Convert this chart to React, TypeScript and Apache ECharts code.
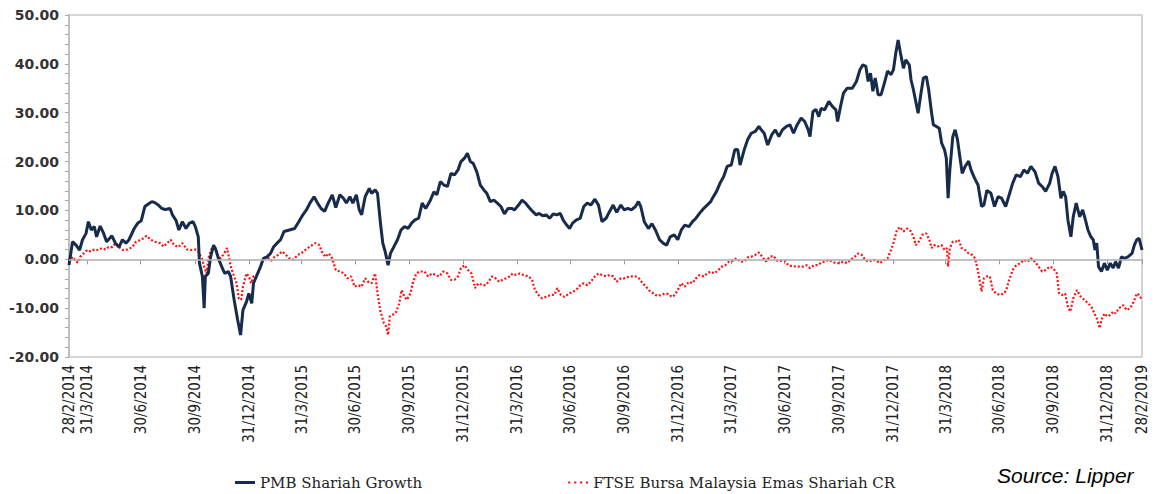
import React, { useEffect, useRef } from "react";
import * as echarts from "echarts";

// x values are days counted from 28/2/2014
const tickDays = [0, 31, 122, 214, 306, 396, 487, 579, 671, 762, 853, 945, 1037, 1127, 1218, 1310, 1402, 1492, 1583, 1675, 1767, 1826];
const tickLabels = [
  "28/2/2014", "31/3/2014", "30/6/2014", "30/9/2014", "31/12/2014",
  "31/3/2015", "30/6/2015", "30/9/2015", "31/12/2015",
  "31/3/2016", "30/6/2016", "30/9/2016", "31/12/2016",
  "31/3/2017", "30/6/2017", "30/9/2017", "31/12/2017",
  "31/3/2018", "30/6/2018", "30/9/2018", "31/12/2018", "28/2/2019",
];

const seriesNames = ["PMB Shariah Growth", "FTSE Bursa Malaysia Emas Shariah CR"];

const pmbGrowth: [number, number][] = [
  [0,-1.2],[6,3.6],[12,2.9],[18,1.9],[23,4.0],[29,5.3],[33,7.7],[38,6.0],[43,6.7],[47,4.6],[53,6.8],[59,5.3],[64,3.6],[73,4.8],[79,3.3],[85,2.5],[91,4.0],[97,3.3],[102,4.0],[111,6.3],[117,7.4],[123,7.9],[129,10.8],[135,11.3],[141,11.8],[146,11.6],[152,11.1],[158,10.4],[164,10.2],[172,10.4],[176,9.1],[182,8.0],[187,6.0],[193,7.7],[199,6.3],[205,7.4],[211,7.7],[215,6.7],[220,4.6],[222,-0.8],[227,-3.5],[230,-10.0],[232,-3.5],[237,-2.9],[241,0.5],[246,2.9],[250,1.9],[255,-0.1],[261,-1.8],[265,-2.9],[271,-2.5],[275,-3.5],[281,-8.3],[287,-12.4],[292,-15.5],[296,-10.4],[302,-8.7],[306,-7.0],[311,-9.0],[314,-4.9],[320,-3.2],[326,-1.5],[331,0.2],[337,0.5],[343,1.2],[348,2.5],[354,3.3],[360,4.0],[366,5.7],[375,6.0],[384,6.3],[391,7.7],[398,9.1],[404,10.1],[410,11.5],[417,12.8],[423,11.5],[429,10.4],[435,9.8],[441,11.5],[448,13.2],[454,10.6],[461,13.2],[467,12.5],[472,11.5],[478,12.8],[483,11.5],[489,13.2],[494,10.1],[498,9.1],[504,12.8],[511,14.5],[515,13.5],[521,14.2],[525,13.5],[530,7.4],[534,3.3],[538,1.6],[543,-1.2],[547,1.2],[553,2.6],[559,4.0],[565,6.0],[571,6.7],[577,6.3],[583,7.4],[588,8.0],[595,8.4],[601,11.5],[607,10.4],[615,12.1],[621,13.8],[626,13.2],[632,15.9],[638,15.2],[644,14.9],[650,17.6],[656,17.3],[662,18.3],[667,20.0],[673,20.7],[678,21.7],[683,20.0],[688,19.6],[694,17.9],[700,15.2],[706,14.2],[711,13.5],[717,11.8],[723,12.1],[729,11.5],[735,10.8],[741,9.3],[747,10.4],[754,10.4],[758,10.1],[765,11.1],[771,12.1],[777,11.5],[783,10.6],[789,9.8],[795,9.1],[800,9.4],[806,8.9],[812,9.1],[818,8.4],[824,9.3],[830,9.1],[836,9.4],[841,8.0],[847,7.0],[852,6.3],[857,7.4],[863,8.0],
  [870,8.4],[876,10.8],[882,11.5],[888,11.1],[895,12.3],[901,11.1],[907,7.7],[914,8.4],[920,9.8],[926,11.1],[932,9.6],[939,11.1],[945,10.1],[951,10.4],[957,10.1],[964,10.8],[969,11.8],[973,10.8],[979,7.7],[986,6.3],[992,7.3],[998,6.0],[1005,4.0],[1011,3.3],[1017,2.9],[1023,4.6],[1030,5.0],[1036,4.0],[1042,6.0],[1048,7.0],[1055,6.7],[1061,7.7],[1067,8.4],[1073,9.4],[1080,10.4],[1086,11.1],[1092,11.8],[1095,12.5],[1102,13.9],[1108,15.6],[1114,16.9],[1120,19.0],[1127,19.3],[1133,22.4],[1138,22.5],[1142,19.3],[1149,22.4],[1155,24.5],[1161,25.8],[1168,26.2],[1174,27.2],[1178,26.5],[1183,25.8],[1189,23.4],[1196,25.5],[1202,26.5],[1208,25.1],[1214,26.5],[1221,27.2],[1227,27.5],[1233,25.8],[1239,27.5],[1246,28.9],[1252,28.2],[1258,26.5],[1261,25.1],[1266,30.2],[1271,30.7],[1276,29.2],[1280,30.9],[1286,30.6],[1293,32.3],[1299,31.3],[1305,30.6],[1308,28.2],[1313,31.3],[1318,34.0],[1324,35.0],[1333,35.0],[1340,36.4],[1346,38.8],[1351,39.8],[1356,39.5],[1360,36.4],[1364,38.1],[1368,34.4],[1372,37.1],[1377,33.7],[1382,33.7],[1387,35.8],[1393,38.5],[1399,37.8],[1403,38.8],[1407,42.2],[1411,44.9],[1415,42.2],[1420,39.1],[1424,40.8],[1430,39.8],[1433,36.7],[1437,34.7],[1441,32.3],[1445,29.9],[1449,33.3],[1454,37.1],[1459,37.4],[1463,34.7],[1468,29.9],[1471,27.5],[1476,27.2],[1481,26.8],[1485,23.8],[1490,22.4],[1493,20.7],[1496,12.5],[1499,18.3],[1504,25.1],[1508,26.5],[1512,24.5],[1516,21.0],[1520,17.6],[1525,19.0],[1531,20.1],[1535,18.3],[1541,16.6],[1547,15.2],[1553,10.8],[1557,11.1],[1562,14.1],[1569,13.5],[1575,10.8],[1581,12.8],[1587,12.5],[1594,10.8],[1600,13.2],[1606,15.6],[1612,17.3],[1619,16.9],[1625,18.3],[1631,17.6],[1637,19.0],[1644,17.9],[1650,15.6],[1656,14.9],[1662,13.9],[1669,15.6],[1673,17.6],[1678,19.0],[1683,16.9],[1688,12.5],[1692,13.9],[1696,12.8],[1700,8.0],[1705,4.6],[1709,8.7],[1714,11.5],[1720,8.7],[1725,10.1],[1729,8.4],[1734,6.0],[1739,4.6],[1743,4.0],[1746,1.9],[1749,3.3],[1752,-1.5],[1757,-2.5],[1762,-0.8],[1767,-2.2],[1772,-0.8],[1777,-1.8],[1781,-0.5],[1786,-1.8],[1791,0.5],[1796,0.2],[1802,0.5],[1809,1.2],[1813,2.9],[1817,4.0],[1821,4.3],[1826,1.9],
];

const ftseEmasShariah: [number, number][] = [
  [0,-0.5],[6,0.5],[10,-0.1],[15,-0.7],[19,0.5],[25,1.2],[31,1.9],[37,1.6],[43,2.0],[50,1.9],[56,2.3],[62,2.0],[67,2.5],[74,2.5],[79,3.3],[85,2.5],[91,1.9],[100,2.0],[108,2.5],[114,3.6],[123,4.0],[132,4.8],[139,4.0],[146,3.6],[155,3.3],[161,2.6],[167,3.3],[173,4.0],[179,2.9],[186,2.5],[193,3.3],[201,2.0],[208,1.9],[215,2.0],[220,1.6],[226,0.2],[230,-1.5],[234,-2.9],[238,0.5],[243,2.3],[248,2.9],[252,0.9],[258,0.2],[264,1.2],[269,2.3],[272,0.5],[276,-1.8],[281,-3.5],[285,-4.9],[289,-8.0],[293,-8.3],[296,-5.6],[302,-2.9],[306,-3.5],[310,-4.9],[314,-3.5],[320,-3.2],[326,-1.5],[331,0.2],[337,0.5],[344,-0.3],[350,0.5],[356,0.9],[363,1.6],[369,0.9],[375,0.2],[382,-0.1],[389,0.9],[395,1.2],[402,1.9],[410,2.6],[419,3.3],[426,2.9],[430,1.6],[436,0.5],[442,1.2],[448,0.2],[454,-2.2],[461,-2.5],[468,-2.9],[474,-3.9],[480,-3.5],[486,-5.6],[492,-5.3],[498,-5.6],[504,-3.9],[509,-4.6],[515,-4.9],[521,-2.9],[525,-7.0],[530,-10.7],[536,-13.1],[540,-13.8],[543,-15.5],[546,-11.7],[550,-11.4],[556,-11.0],[562,-9.0],[566,-6.3],[571,-7.7],[575,-8.3],[581,-7.0],[585,-4.9],[591,-2.9],[597,-2.5],[605,-2.5],[611,-3.5],[618,-2.9],[624,-3.2],[630,-3.5],[637,-2.5],[644,-2.9],[650,-4.2],[656,-4.2],[662,-3.5],[667,-1.8],[673,-1.2],[679,-2.2],[685,-2.9],[691,-5.9],[697,-4.9],[703,-5.3],[709,-5.3],[714,-4.6],[720,-3.5],[726,-3.9],[732,-4.6],[738,-4.2],[744,-3.9],[750,-3.5],[755,-2.9],[761,-3.2],[767,-2.9],[773,-3.2],[782,-3.5],[788,-4.2],[793,-6.3],[799,-7.3],[805,-8.0],[812,-7.7],[820,-7.3],[826,-7.3],[831,-5.9],[837,-7.3],[843,-7.7],[851,-7.0],[858,-6.6],[863,-6.3],
  [870,-5.3],[876,-4.9],[882,-5.3],[888,-4.6],[895,-3.5],[901,-2.9],[907,-3.2],[914,-3.5],[920,-3.2],[926,-3.5],[932,-4.6],[939,-3.9],[945,-3.9],[954,-3.5],[964,-3.5],[970,-3.9],[976,-4.9],[982,-5.6],[989,-6.6],[995,-7.0],[1001,-7.5],[1008,-7.3],[1014,-7.0],[1020,-7.1],[1026,-7.7],[1031,-7.3],[1036,-6.3],[1042,-4.9],[1048,-5.6],[1055,-4.6],[1061,-4.9],[1067,-3.9],[1073,-3.2],[1080,-3.5],[1086,-2.9],[1092,-2.5],[1098,-2.9],[1105,-2.2],[1111,-1.5],[1117,-1.2],[1123,-0.5],[1130,-0.3],[1136,0.2],[1142,-0.5],[1149,-0.5],[1155,0.4],[1161,0.5],[1168,0.9],[1174,1.4],[1180,0.5],[1186,-0.5],[1192,0.5],[1199,0.7],[1205,-0.3],[1211,-0.3],[1218,-0.3],[1224,-1.2],[1230,-1.4],[1239,-1.5],[1249,-1.5],[1255,-1.2],[1261,-1.8],[1268,-1.2],[1274,-1.2],[1280,-0.7],[1286,-0.5],[1293,-0.1],[1299,-0.5],[1305,-0.8],[1311,-0.8],[1318,-0.5],[1324,-0.8],[1330,-0.1],[1337,0.5],[1343,1.2],[1349,0.9],[1355,-0.1],[1361,-0.5],[1368,-0.1],[1374,-0.3],[1380,-0.8],[1386,-0.3],[1393,0.2],[1399,1.9],[1403,3.3],[1409,6.0],[1414,6.6],[1420,5.7],[1426,6.3],[1433,5.7],[1437,4.6],[1441,2.9],[1446,3.6],[1452,5.0],[1459,5.3],[1464,4.0],[1468,2.3],[1472,2.9],[1478,2.6],[1485,2.9],[1490,1.9],[1494,2.3],[1496,-1.5],[1499,2.3],[1504,3.6],[1509,3.6],[1514,4.0],[1519,2.3],[1525,1.9],[1531,1.2],[1537,0.9],[1542,0.2],[1547,-2.5],[1553,-6.6],[1557,-3.9],[1562,-3.5],[1567,-3.5],[1572,-6.3],[1578,-7.0],[1584,-7.3],[1591,-7.0],[1595,-6.3],[1600,-4.2],[1606,-2.2],[1612,-1.2],[1619,-0.8],[1625,-0.1],[1631,-0.5],[1637,0.2],[1644,-0.5],[1650,-1.5],[1656,-2.5],[1662,-2.2],[1669,-1.5],[1675,-1.8],[1681,-2.9],[1685,-7.0],[1690,-7.3],[1695,-7.0],[1700,-9.7],[1704,-10.7],[1709,-8.0],[1715,-6.3],[1722,-7.7],[1728,-8.3],[1734,-9.0],[1740,-9.7],[1745,-11.1],[1749,-12.1],[1754,-14.1],[1757,-12.4],[1762,-11.1],[1767,-11.7],[1772,-11.4],[1777,-10.7],[1781,-11.1],[1787,-10.0],[1794,-9.4],[1800,-10.4],[1806,-10.0],[1812,-8.7],[1817,-7.0],[1821,-7.3],[1826,-8.3],
];

export default function App() {
  const ref = useRef<HTMLDivElement>(null);
  useEffect(() => {
    document.body.style.margin = "0";
    if (!ref.current) return;
    const chart = echarts.init(ref.current, null, { renderer: "svg" });
    chart.setOption({
      animation: false,
      backgroundColor: "#fff",
      grid: {
        left: 69, right: 15, top: 15, bottom: 137,
        show: true, borderColor: "#c8c8c8", borderWidth: 1.5,
      },
      legend: {
        data: [
          { name: seriesNames[0], icon: "rect" },
          { name: seriesNames[1], icon: "path://M0,0h2v2h-2z M5.5,0h2v2h-2z M11,0h2v2h-2z M16.5,0h2v2h-2z" },
        ],
        left: 235, top: 475, padding: 0,
        itemWidth: 20, itemHeight: 3, itemGap: 146,
        textStyle: { fontFamily: "DejaVu Serif", fontSize: 15, color: "#222" },
      },
      xAxis: {
        type: "value", min: 0, max: 1826,
        splitLine: { show: false },
        axisLine: { show: true, lineStyle: { color: "#b8b8b8", width: 1.5 } },
        axisTick: { show: true, customValues: tickDays, length: 5, lineStyle: { color: "#999" } },
        axisLabel: {
          customValues: tickDays,
          rotate: 90,
          margin: 8,
          fontFamily: "DejaVu Sans Condensed",
          fontSize: 15,
          color: "#222",
          formatter: (v: number) => {
            const i = tickDays.indexOf(Math.round(v));
            return i >= 0 ? tickLabels[i] : "";
          },
        },
      },
      yAxis: {
        type: "value", min: -20, max: 50, interval: 10,
        splitLine: { show: false },
        axisLine: { show: true, lineStyle: { color: "#b8b8b8", width: 1.5 } },
        axisTick: { show: true, length: 4, lineStyle: { color: "#aaa" } },
        minorTick: { show: true, splitNumber: 5, length: 4, lineStyle: { color: "#aaa" } },
        axisLabel: {
          margin: 10,
          fontFamily: "DejaVu Sans",
          fontWeight: "bold",
          fontSize: 14,
          color: "#333",
          formatter: (v: number) => v.toFixed(2),
        },
      },
      series: [
        {
          name: seriesNames[1],
          type: "line",
          data: ftseEmasShariah,
          showSymbol: false,
          symbol: "none",
          lineStyle: { color: "#ff1010", width: 2.2, type: [2, 2] },
          itemStyle: { color: "#ff1010" },
          markLine: {
            silent: true,
            symbol: ["none", "none"],
            label: { show: false },
            lineStyle: { color: "#bdbdbd", width: 1.5, type: "solid" },
            data: [{ yAxis: 0 }],
          },
          z: 2,
        },
        {
          name: seriesNames[0],
          type: "line",
          data: pmbGrowth,
          showSymbol: false,
          symbol: "none",
          lineStyle: { color: "#172b4a", width: 3 },
          itemStyle: { color: "#172b4a" },
          z: 3,
        },
      ],
      graphic: [
        {
          type: "text",
          left: 997,
          top: 465,
          style: {
            text: "Source: Lipper",
            font: 'italic 21px "Liberation Sans"',
            fill: "#000",
          },
        },
      ],
    });
    return () => chart.dispose();
  }, []);
  return <div ref={ref} style={{ width: 1157, height: 494 }} />;
}
